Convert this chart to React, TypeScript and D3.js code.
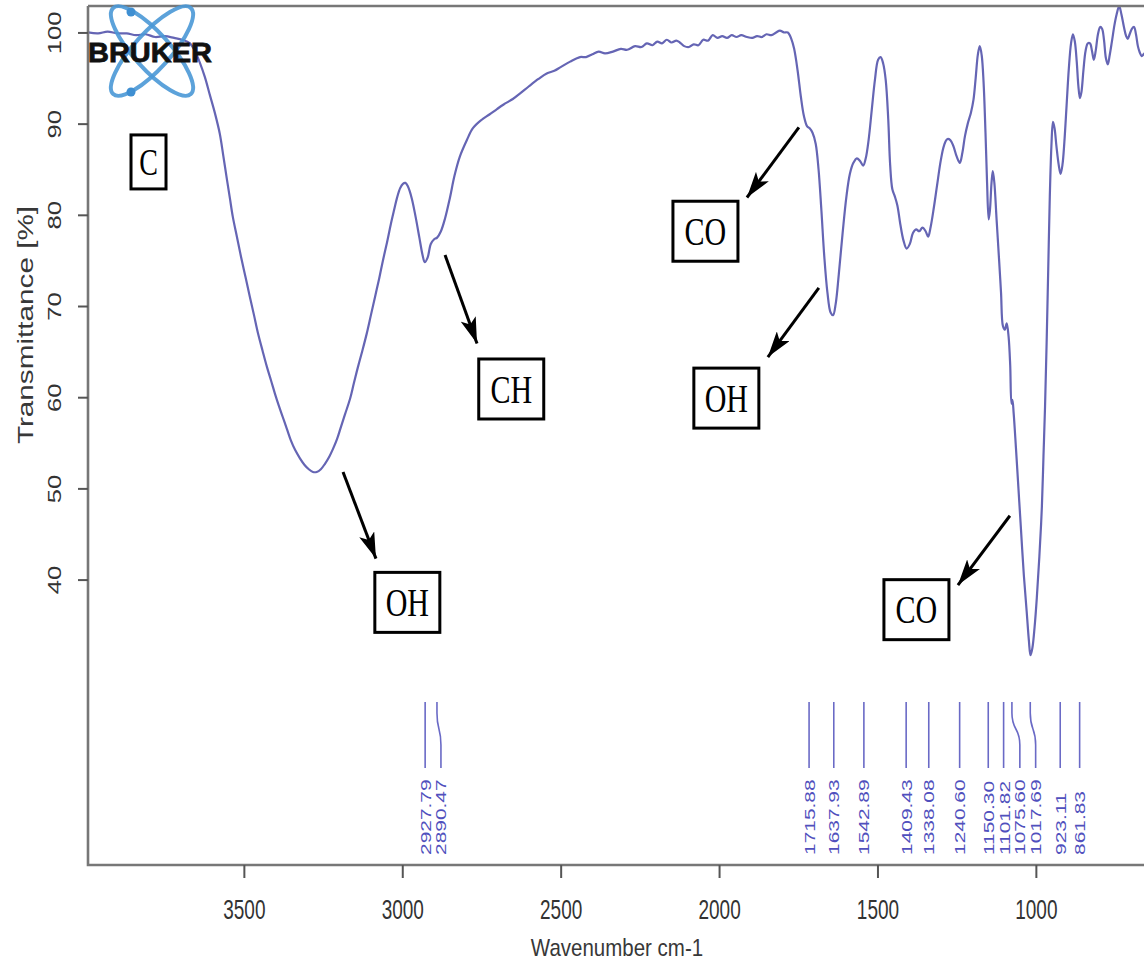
import React, { useEffect, useRef } from 'react';
import * as d3 from 'd3';

// spectrum (wavenumber cm-1, transmittance %)
const wavenumbers = [
  3992, 3960, 3930, 3900, 3870, 3840, 3810, 3780, 3750, 3720, 3695, 3670, 3655, 3639, 3623, 3607, 3591, 3576, 3565, 3554,
  3544, 3535, 3522, 3509, 3495, 3481, 3468, 3456, 3441, 3427, 3414, 3402, 3390, 3377, 3364, 3352, 3338, 3323, 3309, 3295,
  3282, 3270, 3257, 3244, 3230, 3219, 3206, 3194, 3180, 3165, 3153, 3140, 3126, 3112, 3099, 3086, 3073, 3061, 3048, 3036,
  3026, 3017, 3007, 2998, 2990, 2982, 2970, 2958, 2946, 2936, 2929, 2920, 2910, 2900, 2890, 2878, 2865, 2850, 2835, 2818,
  2796, 2777, 2750, 2725, 2701, 2680, 2651, 2625, 2600, 2570, 2544, 2520, 2500, 2470, 2439, 2420, 2400, 2380, 2360, 2335,
  2310, 2290, 2265, 2245, 2228, 2210, 2195, 2180, 2165, 2150, 2135, 2124, 2110, 2095, 2080, 2065, 2050, 2035, 2020, 2005,
  1990, 1975, 1960, 1945, 1930, 1912, 1895, 1880, 1865, 1850, 1835, 1820, 1808, 1795, 1783, 1772, 1763, 1752, 1742, 1732,
  1722, 1714, 1705, 1695, 1686, 1677, 1668, 1658, 1648, 1640, 1632, 1622, 1610, 1598, 1587, 1576, 1565, 1555, 1545, 1537,
  1528, 1518, 1508, 1498, 1490, 1482, 1474, 1466, 1460, 1453, 1445, 1437, 1428, 1418, 1408, 1398, 1388, 1378, 1368, 1358,
  1348, 1340, 1332, 1322, 1312, 1300, 1290, 1280, 1270, 1260, 1250, 1240, 1232, 1224, 1215, 1205, 1197, 1190, 1183, 1177,
  1171, 1165, 1159, 1154, 1149, 1145, 1140, 1136, 1131, 1124, 1116, 1110, 1104, 1098, 1092, 1086, 1081, 1077, 1074, 1070,
  1063, 1055, 1047, 1038, 1029, 1022, 1017, 1011, 1004, 997, 989, 981, 976, 971, 966, 961, 956, 951, 946, 941,
  935, 928, 922, 916, 910, 903, 896, 889, 883, 877, 871, 866, 861, 856, 850, 843, 836, 829, 823, 817,
  811, 804, 797, 791, 785, 779, 773, 767, 760, 752, 745, 737, 730, 722, 715, 710, 704, 697, 690, 684,
  678, 672, 666, 660, 650,
];
const transmittance = [
  100.0, 99.9, 100.1, 99.9, 99.9, 99.7, 99.8, 99.5, 99.6, 99.4, 99.2, 98.8, 98.0, 96.7, 95.1, 93.1, 91.1, 88.9, 86.5, 84.0,
  81.8, 79.8, 77.6, 75.4, 73.2, 71.0, 69.0, 67.1, 65.1, 63.3, 61.8, 60.4, 59.1, 57.8, 56.5, 55.3, 54.2, 53.3, 52.6, 52.1,
  51.8, 51.8, 52.1, 52.7, 53.5, 54.3, 55.4, 56.7, 58.2, 59.8, 61.5, 63.3, 65.1, 67.0, 69.0, 71.0, 73.0, 75.0, 77.0, 79.0,
  80.5, 81.8, 82.9, 83.4, 83.5, 83.1, 81.8, 79.8, 77.5, 75.6, 74.8, 75.3, 76.8, 77.3, 77.5, 78.2, 79.6, 81.8, 84.3, 86.4,
  88.2, 89.5, 90.4, 91.0, 91.6, 92.1, 92.7, 93.4, 94.1, 94.9, 95.5, 95.8, 96.2, 96.8, 97.3, 97.3, 97.6, 97.9, 97.7, 97.9,
  98.2, 98.1, 98.5, 98.4, 98.8, 98.6, 99.0, 98.8, 99.2, 98.9, 99.1, 98.9, 98.5, 98.4, 98.7, 98.6, 99.2, 99.1, 99.7, 99.4,
  99.6, 99.4, 99.7, 99.5, 99.7, 99.5, 99.4, 99.6, 99.5, 99.8, 99.7, 100.0, 100.2, 100.0, 100.0, 99.3, 98.2, 95.8, 93.0, 90.8,
  89.7, 89.5, 89.0, 87.8, 85.0, 80.5, 75.5, 71.5, 69.3, 69.0, 70.2, 73.5, 78.0, 82.0, 84.5, 85.7, 86.2, 85.9, 85.4, 86.2,
  88.2, 91.5, 94.8, 97.0, 97.3, 96.6, 94.8, 90.5, 85.5, 82.8, 82.0, 81.0, 79.0, 77.2, 76.3, 76.8, 78.0, 78.4, 78.2, 78.6,
  78.2, 77.6, 78.7, 80.8, 83.2, 86.0, 87.6, 88.3, 88.2, 87.5, 86.4, 85.7, 86.8, 88.6, 90.0, 91.2, 92.6, 95.0, 97.6, 98.5,
  97.5, 94.5, 89.0, 83.5, 79.5, 80.5, 83.5, 84.8, 83.5, 79.5, 75.0, 71.5, 67.8, 67.4, 68.1, 66.6, 63.5, 59.3, 59.7, 58.2,
  54.5, 50.0, 45.5, 40.5, 36.5, 33.3, 31.7, 32.5, 34.8, 38.0, 42.5, 48.0, 53.5, 59.0, 66.0, 74.0, 82.0, 87.5, 90.2, 89.5,
  87.5, 85.5, 84.5, 85.5, 88.0, 92.0, 96.0, 98.8, 99.8, 99.0, 96.8, 94.2, 92.8, 93.5, 95.8, 98.0, 98.8, 98.8, 98.0, 97.0,
  98.0, 99.8, 100.6, 100.4, 99.2, 97.2, 96.5, 97.5, 99.0, 100.8, 102.0, 102.9, 102.0, 100.6, 99.6, 99.3, 99.8, 100.4, 100.6, 99.8,
  98.5, 97.8, 97.4, 97.6, 98.0,
];

// picked peaks
const peakPositions = [2927.79, 2890.47, 1715.88, 1637.93, 1542.89, 1409.43, 1338.08, 1240.60, 1150.30, 1101.82, 1075.60, 1017.69, 923.11, 861.83];

const xTicks = [3500, 3000, 2500, 2000, 1500, 1000];
const yTicks = [40, 50, 60, 70, 80, 90, 100];

// boxed notes, placed in data units
const noteText = ['C', 'OH', 'CH', 'CO', 'OH', 'CO'];
const noteWave = [3801, 2984, 2656, 2043, 1977, 1377];
const noteTrans = [85.8, 37.5, 60.9, 78.2, 59.9, 36.7];

// arrows (start -> tip), data units
const arrowFromWave = [3187, 2865, 1748, 1685, 1082];
const arrowFromTrans = [51.8, 75.6, 89.6, 72.0, 47.0];
const arrowToWave = [3083, 2764, 1912, 1846, 1246];
const arrowToTrans = [42.3, 65.9, 81.9, 64.4, 39.4];

const STRETCH = 1.35; // the picture is stretched vertically
const SANS = 'Liberation Sans, Arial, Helvetica, sans-serif';
const SERIF = 'Liberation Serif, Times New Roman, serif';

const drawChart = (node: SVGSVGElement) => {
  const W = 1144;
  const left = 88, top = 6, bottom = 865;

  const svg = d3.select(node);
  svg.selectAll('*').remove();

  const x = d3.scaleLinear().domain([3992, 600]).range([left, left + 3392 * 0.3168]);
  const y = d3.scaleLinear().domain([8.7, 102.9]).range([bottom, top]);

  svg.append('rect').attr('width', W).attr('height', 968).attr('fill', '#fff');

  svg.append('clipPath').attr('id', 'plotclip')
    .append('rect').attr('x', left).attr('y', top - 2).attr('width', W - left).attr('height', bottom - top + 2);

  // spectrum
  const pts: [number, number][] = wavenumbers.map((w, i) => [w, transmittance[i]]);
  const line = d3.line<[number, number]>()
    .x(d => x(d[0]))
    .y(d => y(d[1]))
    .curve(d3.curveCatmullRom.alpha(0.5));
  svg.append('path')
    .attr('clip-path', 'url(#plotclip)')
    .attr('d', line(pts))
    .attr('fill', 'none')
    .attr('stroke', '#6565b4')
    .attr('stroke-width', 2.2);

  // peak markers
  let prev = -Infinity;
  const peakG = svg.append('g');
  peakPositions.forEach(p => {
    const tx = x(p);
    const lx = Math.max(tx, prev + 15.8);
    prev = lx;
    const d = lx - tx < 0.5
      ? `M${tx},702V768`
      : `M${tx},702V713C${tx},731 ${lx},727 ${lx},745V768`;
    peakG.append('path').attr('d', d).attr('fill', 'none').attr('stroke', '#6a6ac6').attr('stroke-width', 1.6);
    peakG.append('text')
      .attr('transform', `translate(${lx},855) scale(1,${STRETCH}) rotate(-90)`)
      .attr('dominant-baseline', 'central')
      .attr('font-family', SANS)
      .attr('font-size', 15.5)
      .attr('fill', '#5050bd')
      .text(p.toFixed(2));
  });

  // frame
  const frame = svg.append('g').attr('stroke', '#777').attr('stroke-width', 2.6).attr('fill', 'none');
  frame.append('path').attr('d', `M${left},${top}H${W}`);
  frame.append('path').attr('d', `M${left},${top}V${bottom}H${W}`);

  // x axis
  const xAxis = svg.append('g').attr('transform', `translate(0,${bottom})`)
    .call(d3.axisBottom(x).tickValues(xTicks).tickSize(13).tickSizeOuter(0).tickFormat(d3.format('d')));
  xAxis.select('.domain').remove();
  xAxis.selectAll('line').attr('stroke', '#555').attr('stroke-width', 2);
  xAxis.selectAll('text')
    .attr('y', null).attr('dy', null)
    .attr('transform', `translate(0,44) scale(1,1.5)`)
    .attr('dominant-baseline', 'central')
    .attr('font-family', SANS)
    .attr('font-size', 19)
    .attr('fill', '#333');

  // y axis
  const yAxis = svg.append('g').attr('transform', `translate(${left},0)`)
    .call(d3.axisLeft(y).tickValues(yTicks).tickSize(10).tickSizeOuter(0).tickFormat(d3.format('d')));
  yAxis.select('.domain').remove();
  yAxis.selectAll('line').attr('stroke', '#555').attr('stroke-width', 2);
  yAxis.selectAll('text')
    .attr('x', null).attr('dy', null)
    .attr('transform', `translate(-33,0) scale(1,${STRETCH}) rotate(-90)`)
    .attr('text-anchor', 'middle')
    .attr('dominant-baseline', 'central')
    .attr('font-family', SANS)
    .attr('font-size', 19)
    .attr('fill', '#333');

  // axis titles
  svg.append('text')
    .attr('transform', `translate(617,948) scale(1,1.2)`)
    .attr('text-anchor', 'middle')
    .attr('dominant-baseline', 'central')
    .attr('font-family', SANS)
    .attr('font-size', 20.5)
    .attr('fill', '#383838')
    .text('Wavenumber cm-1');
  svg.append('text')
    .attr('transform', `translate(25,325) scale(1,${STRETCH}) rotate(-90)`)
    .attr('text-anchor', 'middle')
    .attr('dominant-baseline', 'central')
    .attr('font-family', SANS)
    .attr('font-size', 22)
    .attr('fill', '#383838')
    .text('Transmittance [%]');

  // Bruker logo
  const logo = svg.append('g').attr('transform', 'translate(152,51)');
  [48, -48].forEach(a => {
    logo.append('ellipse')
      .attr('rx', 58).attr('ry', 18)
      .attr('transform', `rotate(${a})`)
      .attr('fill', 'none')
      .attr('stroke', '#4a98d6')
      .attr('stroke-width', 4)
      .attr('opacity', 0.9);
  });
  [[-21, -39], [-21, 41]].forEach(([cx, cy]) => {
    logo.append('circle').attr('cx', cx).attr('cy', cy).attr('r', 4.5).attr('fill', '#3f8fd2');
  });
  svg.append('text')
    .attr('x', 88).attr('y', 62)
    .attr('font-family', SANS)
    .attr('font-weight', 900)
    .attr('font-size', 27)
    .attr('textLength', 124)
    .attr('lengthAdjust', 'spacingAndGlyphs')
    .attr('fill', '#111')
    .attr('stroke', '#111')
    .attr('stroke-width', 0.8)
    .text('BRUKER');

  // arrows
  const defs = svg.append('defs');
  defs.append('marker')
    .attr('id', 'arrowhead')
    .attr('viewBox', '0 0 26 16')
    .attr('refX', 26).attr('refY', 8)
    .attr('markerWidth', 26).attr('markerHeight', 16)
    .attr('markerUnits', 'userSpaceOnUse')
    .attr('orient', 'auto')
    .append('path').attr('d', 'M0,0L26,8L0,16L6,8Z').attr('fill', '#000');
  arrowFromWave.forEach((w, i) => {
    svg.append('line')
      .attr('x1', x(w)).attr('y1', y(arrowFromTrans[i]))
      .attr('x2', x(arrowToWave[i])).attr('y2', y(arrowToTrans[i]))
      .attr('stroke', '#000')
      .attr('stroke-width', 3)
      .attr('marker-end', 'url(#arrowhead)');
  });

  // boxed notes
  noteText.forEach((t, i) => {
    const cx = x(noteWave[i]);
    const cy = y(noteTrans[i]);
    const bw = 5 + 30 * t.length;
    const bh = t.length === 1 ? 54 : 60;
    svg.append('rect')
      .attr('x', cx - bw / 2).attr('y', cy - bh / 2)
      .attr('width', bw).attr('height', bh)
      .attr('fill', '#fff')
      .attr('stroke', '#000')
      .attr('stroke-width', 3);
    svg.append('text')
      .attr('transform', `translate(${cx},${cy}) scale(1,${STRETCH})`)
      .attr('text-anchor', 'middle')
      .attr('dominant-baseline', 'central')
      .attr('font-family', SERIF)
      .attr('font-size', t.length === 1 ? 28 : 30)
      .attr('fill', '#000')
      .text(t);
  });
};

export default function App() {
  const ref = useRef<SVGSVGElement>(null);
  useEffect(() => {
    if (ref.current) drawChart(ref.current);
  }, []);
  return (
    <svg
      ref={ref}
      width={1144}
      height={968}
      style={{ position: 'absolute', left: 0, top: 0, display: 'block' }}
    />
  );
}
